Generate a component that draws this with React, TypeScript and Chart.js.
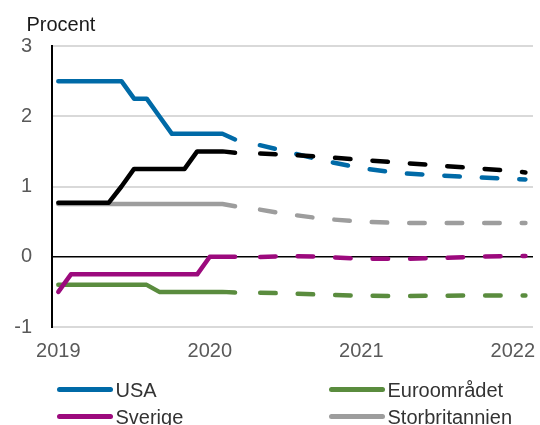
import React, { useEffect, useRef } from 'react';
import { Chart, registerables } from 'chart.js';

Chart.register(...registerables);

// Axis: months since January 2019
const yearLabels = ['2019', '2020', '2021', '2022'];
const yearTickMonths = [0, 12, 24, 36];

// Outcome (monthly)
const actualMonths = [0, 1, 2, 3, 4, 5, 6, 7, 8, 9, 10, 11, 12, 13, 14];
const usaActual = [2.5, 2.5, 2.5, 2.5, 2.5, 2.5, 2.25, 2.25, 2.0, 1.75, 1.75, 1.75, 1.75, 1.75, 1.67];
const euroActual = [-0.4, -0.4, -0.4, -0.4, -0.4, -0.4, -0.4, -0.4, -0.5, -0.5, -0.5, -0.5, -0.5, -0.5, -0.51];
const sverigeActual = [-0.5, -0.25, -0.25, -0.25, -0.25, -0.25, -0.25, -0.25, -0.25, -0.25, -0.25, -0.25, 0, 0, 0];
const ukActual = [0.75, 0.75, 0.75, 0.75, 0.75, 0.75, 0.75, 0.75, 0.75, 0.75, 0.75, 0.75, 0.75, 0.75, 0.72];
const kixActual = [0.77, 0.77, 0.77, 0.77, 0.77, 1.0, 1.25, 1.25, 1.25, 1.25, 1.25, 1.5, 1.5, 1.5, 1.48];

// Forecast (quarterly)
const forecastMonths = [15, 18, 21, 24, 27, 30, 33, 36, 37];
const usaForecast = [1.63, 1.5, 1.37, 1.26, 1.19, 1.16, 1.13, 1.11, 1.1];
const euroForecast = [-0.51, -0.52, -0.54, -0.555, -0.56, -0.555, -0.55, -0.55, -0.55];
const sverigeForecast = [-0.01, 0.01, 0.0, -0.03, -0.03, -0.02, 0.0, 0.01, 0.01];
const ukForecast = [0.7, 0.61, 0.54, 0.5, 0.48, 0.48, 0.48, 0.48, 0.48];
const kixForecast = [1.475, 1.455, 1.42, 1.38, 1.34, 1.3, 1.26, 1.22, 1.2];

const COLORS = {
  usa: '#006AA7',
  euro: '#5A8C3E',
  sverige: '#9C0A7D',
  uk: '#9D9D9D',
  kix: '#000000',
};

const FONT = "'Liberation Sans', Arial, Helvetica, sans-serif";

const pts = (xs: number[], ys: number[]) => xs.map((x, i) => ({ x, y: ys[i] }));

const series = [
  { label: 'KIX', color: COLORS.kix, actual: kixActual, forecast: kixForecast },
  { label: 'Sverige', color: COLORS.sverige, actual: sverigeActual, forecast: sverigeForecast },
  { label: 'USA', color: COLORS.usa, actual: usaActual, forecast: usaForecast },
  { label: 'Euroområdet', color: COLORS.euro, actual: euroActual, forecast: euroForecast },
  { label: 'Storbritannien', color: COLORS.uk, actual: ukActual, forecast: ukForecast },
];

const legendItems = [
  { label: 'USA', color: COLORS.usa, col: 0, row: 0 },
  { label: 'Euroområdet', color: COLORS.euro, col: 1, row: 0 },
  { label: 'Sverige', color: COLORS.sverige, col: 0, row: 1 },
  { label: 'Storbritannien', color: COLORS.uk, col: 1, row: 1 },
];

export default function App() {
  const canvasRef = useRef<HTMLCanvasElement>(null);

  useEffect(() => {
    if (!canvasRef.current) return;
    Chart.defaults.font.family = FONT;
    const datasets: any[] = [];
    series.forEach((s) => {
      datasets.push({
        label: s.label,
        data: pts(actualMonths, s.actual),
        borderColor: s.color,
        backgroundColor: s.color,
        borderWidth: 4.5,
        borderCapStyle: 'round',
        borderJoinStyle: 'round',
        pointRadius: 0,
        tension: 0,
        fill: false,
      });
    });
    series.forEach((s) => {
      datasets.push({
        label: s.label + ' prognos',
        data: pts(forecastMonths, s.forecast),
        borderColor: s.color,
        backgroundColor: s.color,
        borderWidth: 4.5,
        borderCapStyle: 'round',
        borderJoinStyle: 'round',
        borderDash: [15.5, 22],
        borderDashOffset: 25,
        pointRadius: 0,
        tension: 0,
        fill: false,
      });
    });

    const chart = new Chart(canvasRef.current, {
      type: 'line',
      data: { datasets },
      options: {
        animation: false,
        responsive: false,
        layout: { padding: { left: 0, right: 7, top: 46, bottom: 58 } },
        plugins: { legend: { display: false }, tooltip: { enabled: false }, title: { display: false } },
        scales: {
          x: {
            type: 'linear',
            min: -0.5,
            max: 37.6,
            grid: { display: false, drawTicks: false },
            border: { display: false },
            afterBuildTicks: (scale: any) => {
              scale.ticks = yearTickMonths.map((v) => ({ value: v }));
            },
            afterFit: (scale: any) => {
              scale.height = 40;
              scale.paddingLeft = 0;
              scale.paddingRight = 0;
            },
            ticks: {
              padding: 12,
              color: '#595959',
              font: { size: 20, family: FONT },
              maxRotation: 0,
              autoSkip: false,
              callback: (v: any) => {
                const i = yearTickMonths.indexOf(Number(v));
                return i >= 0 ? yearLabels[i] : '';
              },
            },
          },
          y: {
            type: 'linear',
            min: -1,
            max: 3,
            ticks: {
              stepSize: 1,
              padding: 20,
              color: '#595959',
              font: { size: 20, family: FONT },
            },
            grid: {
              drawTicks: false,
              color: (ctx: any) => (ctx.tick && ctx.tick.value === 0 ? '#000000' : '#d9d9d9'),
              lineWidth: (ctx: any) => (ctx.tick && ctx.tick.value === 0 ? 1.5 : 2),
            },
            border: { display: true, color: '#000000', width: 2 },
            afterFit: (scale: any) => {
              scale.width = 52;
            },
          },
        },
      },
    });
    return () => chart.destroy();
  }, []);

  return (
    <div
      style={{
        position: 'absolute',
        left: 0,
        top: 0,
        width: 540,
        height: 425,
        overflow: 'hidden',
        fontFamily: FONT,
        background: '#ffffff',
      }}
    >
      <canvas ref={canvasRef} width={540} height={425} style={{ display: 'block' }} />
      <div
        style={{
          position: 'absolute',
          left: 26.5,
          top: 14,
          fontSize: 20,
          lineHeight: '20px',
          color: '#1a1a1a',
          whiteSpace: 'nowrap',
        }}
      >
        Procent
      </div>
      {legendItems.map((item) => {
        const lineLeft = item.col === 0 ? 57 : 329;
        const top = item.row === 0 ? 379.6 : 407.2;
        return (
          <div key={item.label} style={{ position: 'absolute', left: lineLeft, top, height: 20, whiteSpace: 'nowrap' }}>
            <div
              style={{
                position: 'absolute',
                left: 0,
                top: 7,
                width: 56,
                height: 5,
                borderRadius: 2.5,
                background: item.color,
              }}
            />
            <div
              style={{
                position: 'absolute',
                left: 58.5,
                top: 0,
                fontSize: 20,
                lineHeight: '20px',
                color: '#333333',
              }}
            >
              {item.label}
            </div>
          </div>
        );
      })}
    </div>
  );
}
